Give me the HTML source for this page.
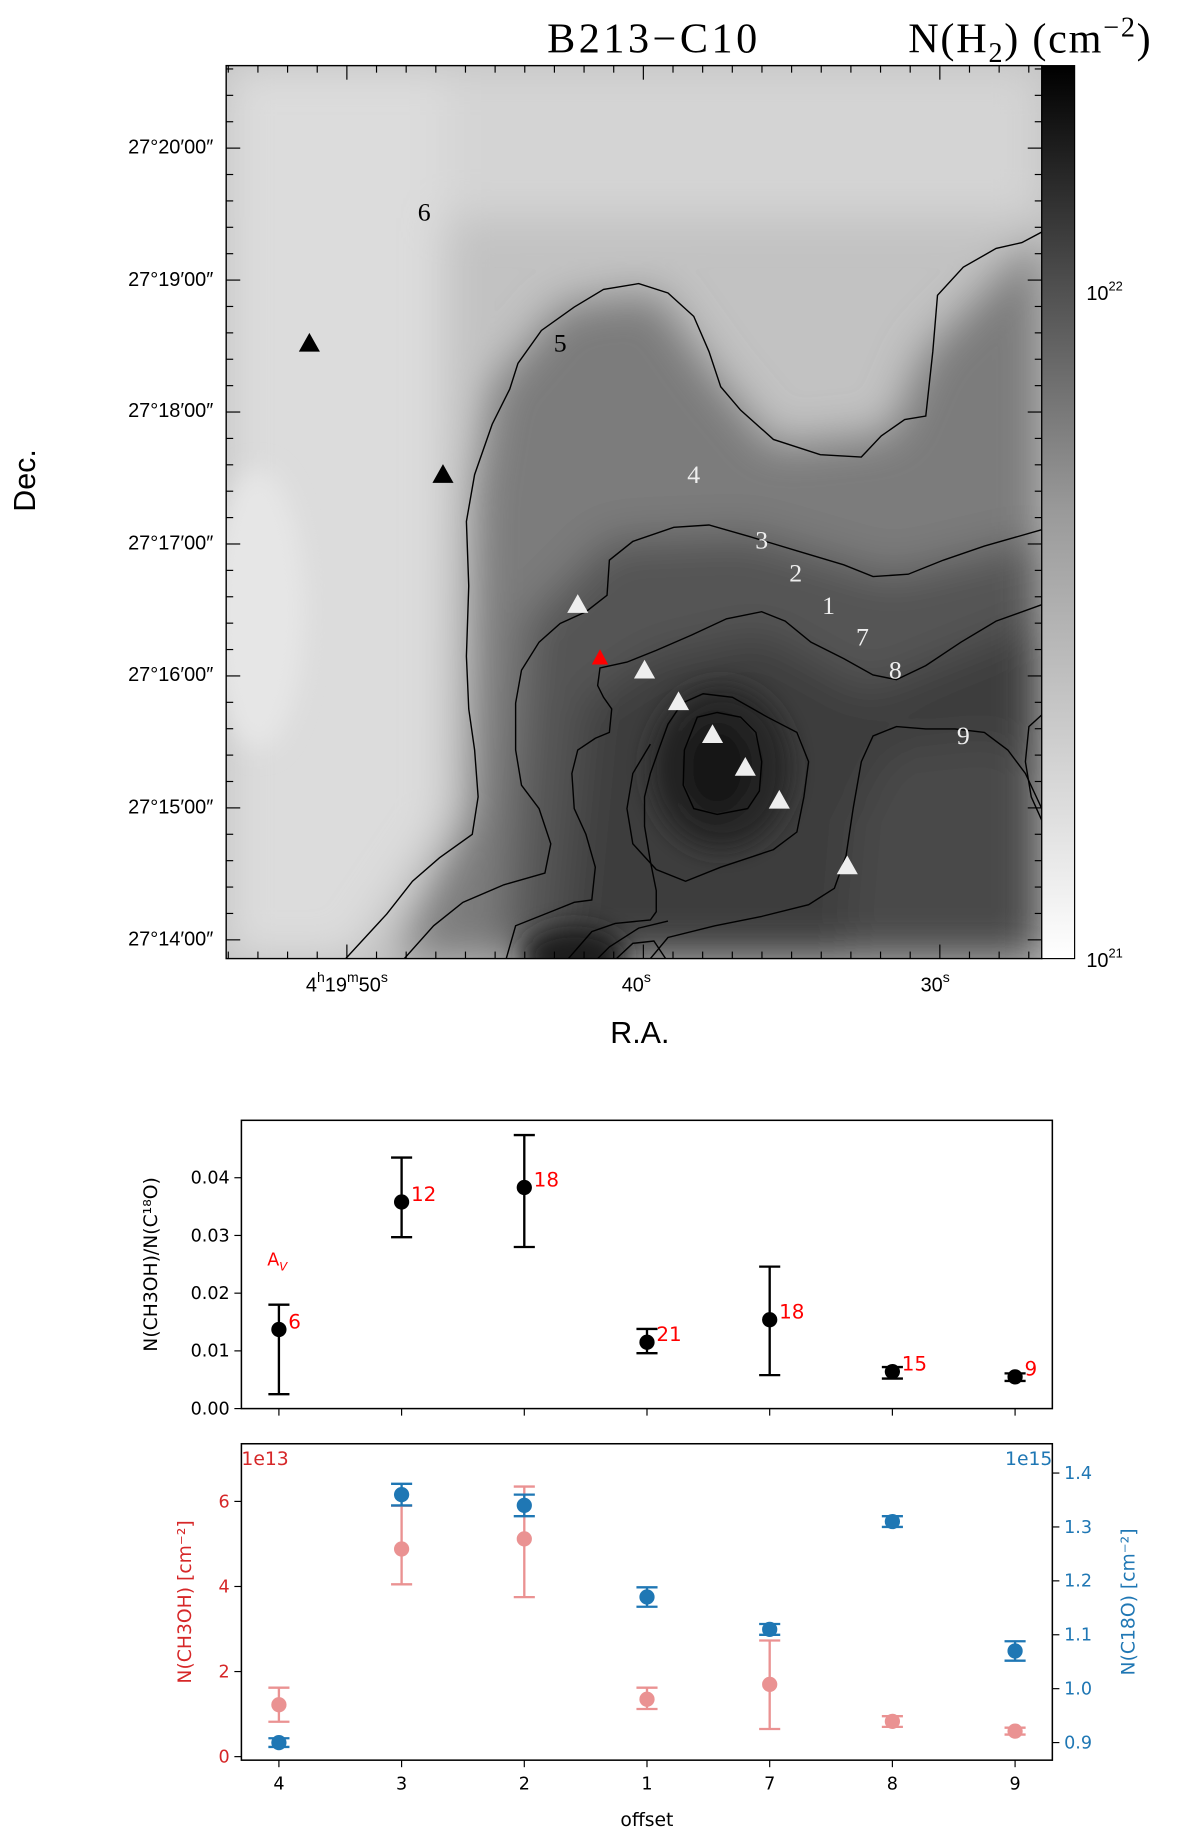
<!DOCTYPE html>
<html><head><meta charset="utf-8"><style>
html,body{margin:0;padding:0;background:#fff;}
svg{display:block;}
.t{font-family:"Liberation Sans","DejaVu Sans",sans-serif;}
.s{font-family:"Liberation Serif","DejaVu Serif",serif;}
.d{font-family:"DejaVu Sans","Liberation Sans",sans-serif;}
</style></head><body>
<svg id="root" width="1200" height="1830" viewBox="0 0 1024 1561.6" xmlns="http://www.w3.org/2000/svg">
<defs>
<filter id="blur" x="-20%" y="-20%" width="140%" height="140%"><feGaussianBlur stdDeviation="18"/></filter>
<filter id="blur2" x="-20%" y="-20%" width="140%" height="140%"><feGaussianBlur stdDeviation="10"/></filter>
<clipPath id="mapclip"><rect x="193" y="56" width="696" height="762"/></clipPath>
<linearGradient id="cbar" x1="0" y1="1" x2="0" y2="0">
<stop offset="0" stop-color="#ffffff"/><stop offset="0.5" stop-color="#9a9a9a"/><stop offset="0.75" stop-color="#505050"/><stop offset="1" stop-color="#000"/>
</linearGradient>
</defs>

<!-- MAP -->
<g>
<g clip-path="url(#mapclip)">
<rect x="193" y="56" width="696" height="762" fill="#c2c2c2"/>
<g filter="url(#blur)">
<rect x="193" y="56" width="696" height="130" fill="#d4d4d4"/>
<polygon points="193,56 380,56 380,700 300,818 193,818" fill="#dcdcdc"/>
<polygon points="420,330 480,260 560,250 610,320 660,380 760,370 790,300 889,200 889,818 340,818 400,690 405,420" fill="#7c7c7c"/>
<polygon points="450,530 520,460 640,455 760,490 889,460 889,818 430,818" fill="#555"/>
<polygon points="500,600 560,560 650,540 740,590 889,530 889,818 480,818" fill="#3e3e3e"/>
<polygon points="760,640 850,630 889,650 889,818 720,818 730,700" fill="#4a4a4a"/>
</g>
<g filter="url(#blur2)">
<ellipse cx="615" cy="655" rx="60" ry="70" fill="#262626"/>
<ellipse cx="612" cy="655" rx="30" ry="40" fill="#161616"/>
<ellipse cx="490" cy="815" rx="45" ry="25" fill="#1e1e1e"/>
<ellipse cx="220" cy="520" rx="40" ry="120" fill="#e6e6e6"/>
</g>
<g fill="none" stroke="#000" stroke-width="1.2">
<path d="M295,818 L330,780 L352,752 L375,732 L403,712 L408,680 L405,640 L400,605 L398,560 L400,500 L398,445 L405,405 L420,362 L435,332 L442,310 L462,282 L490,262 L515,247 L545,242 L570,250 L592,270 L605,300 L615,330 L632,350 L660,375 L700,388 L735,390 L752,372 L772,358 L790,355 L796,300 L800,252 L822,228 L850,212 L872,207 L889,198"/>
<path d="M345,818 L370,790 L395,770 L430,755 L465,745 L470,720 L460,690 L445,670 L440,640 L440,600 L445,572 L460,548 L478,532 L500,522 L518,508 L520,478 L540,462 L575,450 L605,448 L640,458 L680,470 L720,482 L745,492 L775,490 L805,478 L840,466 L889,452"/>
<path d="M432,818 L440,790 L470,778 L490,770 L505,768 L508,740 L500,712 L490,690 L488,660 L493,640 L508,630 L520,625 L522,605 L515,595 L510,585 L512,570 L535,565 L560,555 L590,542 L620,528 L650,522 L670,530 L692,548 L720,562 L745,576 L765,580 L790,568 L820,548 L850,530 L889,516"/>
<path d="M485,818 L505,795 L525,788 L555,785 L560,778 L560,760 L555,735 L550,705 L550,680 L555,660 L562,640 L570,618 L582,600 L600,592 L625,595 L655,612 L680,625 L690,650 L686,680 L680,710 L660,725 L615,740 L585,752 L560,742 L540,720 L535,690 L540,660 L555,635"/>
<path d="M595,612 L612,608 L632,612 L645,625 L650,650 L648,675 L638,690 L612,695 L592,690 L583,670 L584,640 Z"/>
<path d="M510,818 L520,808 L545,792 L570,786"/>
<path d="M526,818 L540,805 L558,803 L568,818"/>
<path d="M889,690 L875,660 L860,640 L840,625 L815,622 L790,622 L765,620 L745,628 L735,650 L728,690 L722,730 L712,758 L690,772 L650,782 L610,790 L570,800 L555,818"/>
<path d="M889,610 L878,620 L875,650 L880,680 L889,700"/>
</g>
</g>
<rect x="193" y="56" width="696" height="762" fill="none" stroke="#000" stroke-width="1.2"/>
<g>
<polygon points="264,284 255,300 273,300" fill="#000"/>
<polygon points="378,396 369,412 387,412" fill="#000"/>
<polygon points="493,507 484,523 502,523" fill="#eee"/>
<polygon points="550,563 541,579 559,579" fill="#eee"/>
<polygon points="579,590 570,606 588,606" fill="#eee"/>
<polygon points="608,618 599,634 617,634" fill="#eee"/>
<polygon points="636,646 627,662 645,662" fill="#eee"/>
<polygon points="665,674 656,690 674,690" fill="#eee"/>
<polygon points="723,730 714,746 732,746" fill="#eee"/>
<polygon points="512,554 505,567 519,567" fill="#f00"/>
</g>
<g class="s" font-size="22" text-anchor="middle">
<text x="362" y="188" fill="#000">6</text>
<text x="478" y="300" fill="#000">5</text>
<text x="592" y="412" fill="#eee">4</text>
<text x="650" y="468" fill="#eee">3</text>
<text x="679" y="496" fill="#eee">2</text>
<text x="707" y="524" fill="#eee">1</text>
<text x="736" y="551" fill="#eee">7</text>
<text x="764" y="579" fill="#eee">8</text>
<text x="822" y="635" fill="#eee">9</text>
</g>
<text class="s" x="558" y="45" font-size="36" letter-spacing="3" text-anchor="middle">B213−C10</text>
<text class="s" x="775" y="45" font-size="36" letter-spacing="1.5">N(H<tspan font-size="24" dy="8">2</tspan><tspan dy="-8">)  (cm</tspan><tspan font-size="24" dy="-14">−2</tspan><tspan dy="14">)</tspan></text>
<g id="mapticks" stroke="#000" stroke-width="1"></g>
<g class="t" font-size="17" text-anchor="end">
<text x="182" y="131">27°20′00″</text>
<text x="182" y="244">27°19′00″</text>
<text x="182" y="356">27°18′00″</text>
<text x="182" y="469">27°17′00″</text>
<text x="182" y="581">27°16′00″</text>
<text x="182" y="694">27°15′00″</text>
<text x="182" y="807">27°14′00″</text>
</g>
<g class="t" font-size="17" text-anchor="middle">
<text x="296" y="846">4<tspan font-size="12" dy="-8">h</tspan><tspan dy="8">19</tspan><tspan font-size="12" dy="-8">m</tspan><tspan dy="8">50</tspan><tspan font-size="12" dy="-8">s</tspan></text>
<text x="543" y="846">40<tspan font-size="12" dy="-8">s</tspan></text>
<text x="798" y="846">30<tspan font-size="12" dy="-8">s</tspan></text>
</g>
<text class="t" x="546" y="890" font-size="26" text-anchor="middle">R.A.</text>
<text class="t" x="30" y="410" font-size="26" text-anchor="middle" transform="rotate(-90 30 410)">Dec.</text>
<rect x="889" y="56" width="28" height="762" fill="url(#cbar)" stroke="#000" stroke-width="1"/>
<g class="t" font-size="17">
<text x="927" y="256">10<tspan font-size="11" dy="-8">22</tspan></text>
<text x="927" y="825">10<tspan font-size="11" dy="-8">21</tspan></text>
</g>
</g>

<g id="charts"></g>
</svg>
<script>
const offsets = ["4","3","2","1","7","8","9"];
const ratio = [0.0137,0.0358,0.0383,0.0115,0.0154,0.0064,0.0055];
const ratioLo = [0.0025,0.0297,0.0280,0.0096,0.0058,0.0052,0.0048];
const ratioHi = [0.0180,0.0435,0.0474,0.0138,0.0246,0.0072,0.0061];
const avLabels = ["6","12","18","21","18","15","9"];
const ratioTicks = [0,0.01,0.02,0.03,0.04];
const ch3oh = [1.22,4.88,5.12,1.35,1.70,0.83,0.60];
const ch3ohLo = [0.82,4.05,3.75,1.12,0.65,0.70,0.52];
const ch3ohHi = [1.62,5.90,6.35,1.62,2.73,0.95,0.68];
const ch3ohTicks = [0,2,4,6];
const c18o = [0.900,1.360,1.340,1.170,1.110,1.310,1.070];
const c18oLo = [0.892,1.340,1.320,1.152,1.100,1.300,1.052];
const c18oHi = [0.908,1.380,1.360,1.188,1.120,1.320,1.088];
const c18oTicks = [0.9,1.0,1.1,1.2,1.3,1.4];

const NS="http://www.w3.org/2000/svg";
function mk(tag,attrs,parent,text){const e=document.createElementNS(NS,tag);for(const k in attrs)e.setAttribute(k,attrs[k]);if(text!==undefined)e.textContent=text;parent.appendChild(e);return e;}

const mt=document.getElementById('mapticks');


for(let i=0;i<34;i++){const y=818-(i*112.6/5)-16;if(y<56)break;const major=Math.abs(((y-124)/112.6)-Math.round((y-124)/112.6))<0.05;const L=major?12:6;
 mk('line',{x1:193,y1:y,x2:193+L,y2:y},mt);mk('line',{x1:889,y1:y,x2:889-L,y2:y},mt);}
for(let i=-8;i<30;i++){const x=296+i*25.3;if(x<193||x>889)continue;const major=(i%10===0);const L=major?12:6;
 mk('line',{x1:x,y1:818,x2:x,y2:818-L},mt);mk('line',{x1:x,y1:56,x2:x,y2:56+L},mt);}

const ch=document.getElementById('charts');


const L=206,R=898;
function xs(i){return 238+i*104.7;}
const T1=956,B1=1202;
function y1(v){return 1202-v*4925;}
const p1=mk('g',{},ch);


mk('rect',{x:L,y:T1,width:R-L,height:B1-T1,fill:'none',stroke:'#000','stroke-width':1.3},p1);
ratioTicks.forEach(t=>{const y=y1(t);mk('line',{x1:L-6,y1:y,x2:L,y2:y,stroke:'#000'},p1);
 const tx=mk('text',{x:L-10,y:y+5,'font-size':15,'text-anchor':'end',class:'d'},p1,t.toFixed(2));
 
 });
offsets.forEach((o,i)=>{mk('line',{x1:xs(i),y1:B1,x2:xs(i),y2:B1+6,stroke:'#000'},p1);});
mk('text',{x:134,y:1079,'font-size':16,'text-anchor':'middle',class:'d',transform:'rotate(-90 134 1079)'},p1,'N(CH3OH)/N(C¹⁸O)');
mk('text',{x:228,y:1080,'font-size':15,fill:'#f00',class:'d'},p1,'A').innerHTML='A<tspan font-size="10" dy="4" font-style="italic">V</tspan>';
offsets.forEach((o,i)=>{const g=mk('g',{},p1);
 
 
 const x=xs(i);
 mk('line',{x1:x,y1:y1(ratioLo[i]),x2:x,y2:y1(ratioHi[i]),stroke:'#000','stroke-width':2},g);
 mk('line',{x1:x-9,y1:y1(ratioLo[i]),x2:x+9,y2:y1(ratioLo[i]),stroke:'#000','stroke-width':2},g);
 mk('line',{x1:x-9,y1:y1(ratioHi[i]),x2:x+9,y2:y1(ratioHi[i]),stroke:'#000','stroke-width':2},g);
 mk('circle',{cx:x,cy:y1(ratio[i]),r:6.5,fill:'#000'},g);
 mk('text',{x:x+8,y:y1(ratio[i])-1,'font-size':17,fill:'#f00',class:'d'},g,avLabels[i]);
});
const T2=1232,B2=1502;
function y2(v){return 1499-v*36.3;}
function y3(v){return 1487-(v-0.9)*460;}
const p2=mk('g',{},ch);


mk('rect',{x:L,y:T2,width:R-L,height:B2-T2,fill:'none',stroke:'#000','stroke-width':1.3},p2);
ch3ohTicks.forEach(t=>{const y=y2(t);mk('line',{x1:L-6,y1:y,x2:L,y2:y,stroke:'#000'},p2);
 const tx=mk('text',{x:L-10,y:y+5,'font-size':15,'text-anchor':'end',fill:'#d62728',class:'d'},p2,String(t));
 
 });
c18oTicks.forEach(t=>{const y=y3(t);mk('line',{x1:R,y1:y,x2:R+6,y2:y,stroke:'#000'},p2);
 const tx=mk('text',{x:R+10,y:y+5,'font-size':15,fill:'#1f77b4',class:'d'},p2,t.toFixed(1));
 
 });
offsets.forEach((o,i)=>{mk('line',{x1:xs(i),y1:B2,x2:xs(i),y2:B2+6,stroke:'#000'},p2);
 const tx=mk('text',{x:xs(i),y:B2+25,'font-size':15,'text-anchor':'middle',class:'d'},p2,o);
 
 });
mk('text',{x:552,y:1558,'font-size':16,'text-anchor':'middle',class:'d'},p2,'offset');
mk('text',{x:206,y:1250,'font-size':16,fill:'#d62728',class:'d'},p2,'1e13');
mk('text',{x:898,y:1250,'font-size':16,fill:'#1f77b4','text-anchor':'end',class:'d'},p2,'1e15');
mk('text',{x:163,y:1367,'font-size':16,fill:'#d62728','text-anchor':'middle',class:'d',transform:'rotate(-90 163 1367)'},p2,'N(CH3OH) [cm⁻²]');
mk('text',{x:968,y:1367,'font-size':16,fill:'#1f77b4','text-anchor':'middle',class:'d',transform:'rotate(-90 968 1367)'},p2,'N(C18O) [cm⁻²]');
offsets.forEach((o,i)=>{const g=mk('g',{opacity:0.5},p2);
 
 
 const x=xs(i),c='#d62728';
 mk('line',{x1:x,y1:y2(ch3ohLo[i]),x2:x,y2:y2(ch3ohHi[i]),stroke:c,'stroke-width':2},g);
 mk('line',{x1:x-9,y1:y2(ch3ohLo[i]),x2:x+9,y2:y2(ch3ohLo[i]),stroke:c,'stroke-width':2},g);
 mk('line',{x1:x-9,y1:y2(ch3ohHi[i]),x2:x+9,y2:y2(ch3ohHi[i]),stroke:c,'stroke-width':2},g);
 mk('circle',{cx:x,cy:y2(ch3oh[i]),r:6.5,fill:c},g);
});
offsets.forEach((o,i)=>{const g=mk('g',{},p2);
 
 
 const x=xs(i),c='#1f77b4';
 mk('line',{x1:x,y1:y3(c18oLo[i]),x2:x,y2:y3(c18oHi[i]),stroke:c,'stroke-width':2},g);
 mk('line',{x1:x-9,y1:y3(c18oLo[i]),x2:x+9,y2:y3(c18oLo[i]),stroke:c,'stroke-width':2},g);
 mk('line',{x1:x-9,y1:y3(c18oHi[i]),x2:x+9,y2:y3(c18oHi[i]),stroke:c,'stroke-width':2},g);
 mk('circle',{cx:x,cy:y3(c18o[i]),r:6.5,fill:c},g);
});
</script>
</body></html>
